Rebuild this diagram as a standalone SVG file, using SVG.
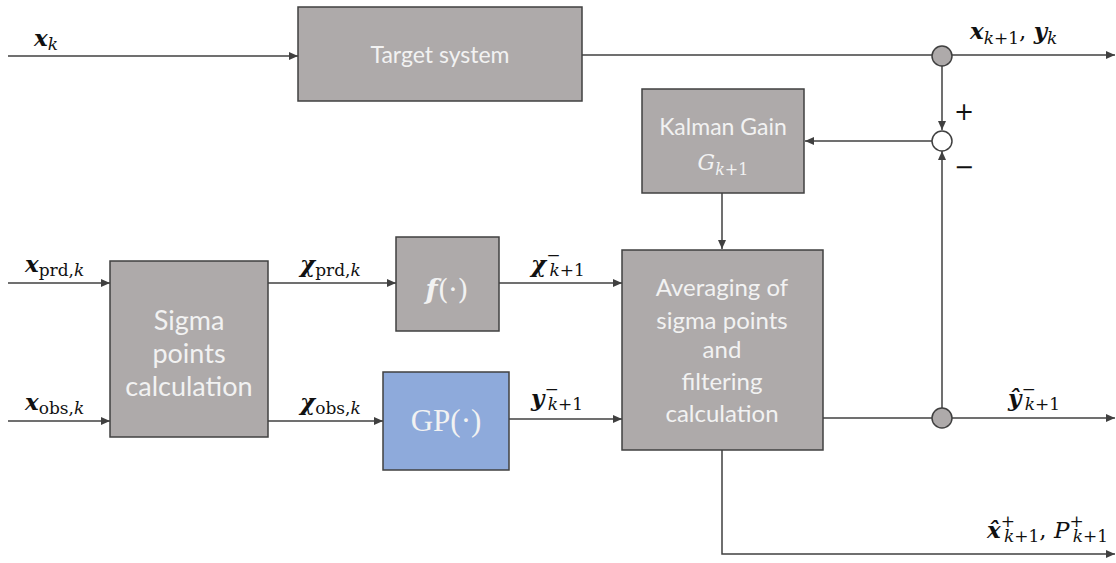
<svg xmlns="http://www.w3.org/2000/svg" width="1116" height="563" viewBox="0 0 1116 563">
<defs>
<marker id="ah" markerWidth="10" markerHeight="8" refX="9" refY="4" orient="auto" markerUnits="userSpaceOnUse">
<path d="M0,0 L9,4 L0,8 Z" fill="#404040"/>
</marker>
<style>
.box{fill:#aeaaaa;stroke:#404040;stroke-width:1.5}
.gp{fill:#8eaadb;stroke:#404040;stroke-width:1.5}
.lbl{font-family:"Lato","Open Sans",sans-serif;fill:#f2f2f2;text-anchor:middle}
.ln{fill:none;stroke:#404040;stroke-width:1.5}
.arr{marker-end:url(#ah)}
.m{font-family:"DejaVu Serif","Liberation Serif",serif;font-size:23px;fill:#111}
.b{font-weight:bold;font-style:italic}
.i{font-style:italic}
.s{font-size:17px}
.pm{font-family:"DejaVu Sans",sans-serif;font-size:24px;fill:#111}
</style>
</defs>
<g id="connectors">
<line class="ln arr" x1="8" y1="56" x2="298" y2="56"/>
<line class="ln" x1="582" y1="55" x2="932" y2="55"/>
<line class="ln arr" x1="952" y1="55" x2="1115" y2="55"/>
<line class="ln arr" x1="942" y1="65" x2="942" y2="130"/>
<line class="ln arr" x1="932" y1="141" x2="805" y2="141"/>
<line class="ln arr" x1="722" y1="193" x2="722" y2="249"/>
<line class="ln arr" x1="8" y1="283" x2="110" y2="283"/>
<line class="ln arr" x1="8" y1="421" x2="110" y2="421"/>
<line class="ln arr" x1="268" y1="283" x2="396" y2="283"/>
<line class="ln arr" x1="268" y1="421" x2="383" y2="421"/>
<line class="ln arr" x1="499" y1="283" x2="622" y2="283"/>
<line class="ln arr" x1="509" y1="419" x2="622" y2="419"/>
<line class="ln" x1="823" y1="418" x2="932" y2="418"/>
<line class="ln arr" x1="952" y1="418" x2="1115" y2="418"/>
<line class="ln arr" x1="942" y1="408" x2="942" y2="151"/>
<polyline class="ln arr" points="722,450 722,554 1115,554"/>
</g>
<g id="target-system">
<rect class="box" x="298" y="7" width="284" height="94"/>
<text class="lbl" x="440" y="63" font-size="23">Target system</text>
</g>
<g id="kalman-gain">
<rect class="box" x="642" y="89" width="162" height="104"/>
<text class="lbl" x="723" y="135" font-size="23">Kalman Gain</text>
<text x="723" y="170" font-family="DejaVu Serif,serif" font-size="22" fill="#f2f2f2" font-style="italic" text-anchor="middle">G<tspan font-size="16" dy="5">k</tspan><tspan font-size="16" font-style="normal">+1</tspan></text>
</g>
<g id="sigma-points">
<rect class="box" x="110" y="261" width="158" height="176"/>
<text class="lbl" x="189" y="330" font-size="27">Sigma</text>
<text class="lbl" x="189" y="363" font-size="27">points</text>
<text class="lbl" x="189" y="396" font-size="27">calculation</text>
</g>
<g id="f-block">
<rect class="box" x="396" y="237" width="103" height="94"/>
<text x="447" y="299" font-family="DejaVu Serif,serif" font-size="28" fill="#f2f2f2" text-anchor="middle"><tspan font-weight="bold" font-style="italic">f</tspan>(·)</text>
</g>
<g id="gp-block">
<rect class="gp" x="383" y="372" width="126" height="98"/>
<text x="446" y="431" font-family="Liberation Serif,serif" font-size="31" fill="#f2f2f2" text-anchor="middle">GP(·)</text>
</g>
<g id="averaging">
<rect class="box" x="622" y="250" width="201" height="200"/>
<text class="lbl" x="722" y="296" font-size="24">Averaging of</text>
<text class="lbl" x="722" y="329" font-size="24">sigma points</text>
<text class="lbl" x="722" y="358" font-size="24">and</text>
<text class="lbl" x="722" y="390" font-size="24">filtering</text>
<text class="lbl" x="722" y="422" font-size="24">calculation</text>
</g>
<g id="junction-top">
<circle cx="942" cy="56" r="10" fill="#aeaaaa" stroke="#404040" stroke-width="1.5"/>
</g>
<g id="sum">
<circle cx="942" cy="141" r="10" fill="#ffffff" stroke="#404040" stroke-width="1.5"/>
</g>
<g id="junction-bottom">
<circle cx="942" cy="418" r="10" fill="#aeaaaa" stroke="#404040" stroke-width="1.5"/>
</g>
<g id="labels">
<text class="m" x="34" y="46"><tspan class="b">x</tspan><tspan class="s i" dy="4">k</tspan></text>
<text class="m" x="970" y="39"><tspan class="b">x</tspan><tspan class="s i" dy="5">k</tspan><tspan class="s">+1</tspan><tspan dy="-5">, </tspan><tspan class="b">y</tspan><tspan class="s i" dy="5">k</tspan></text>
<text class="pm" x="954" y="120">+</text>
<text class="pm" x="954" y="175">−</text>
<text class="m" x="25" y="272"><tspan class="b">x</tspan><tspan class="s" dy="4">prd,</tspan><tspan class="s i">k</tspan></text>
<text class="m" x="25" y="410"><tspan class="b">x</tspan><tspan class="s" dy="4">obs,</tspan><tspan class="s i">k</tspan></text>
<text class="m" x="300" y="272"><tspan class="b">χ</tspan><tspan class="s" dy="4">prd,</tspan><tspan class="s i">k</tspan></text>
<text class="m" x="300" y="410"><tspan class="b">χ</tspan><tspan class="s" dy="4">obs,</tspan><tspan class="s i">k</tspan></text>
<text class="m" x="531" y="272"><tspan class="b">χ</tspan><tspan class="s" dy="-11">−</tspan><tspan class="s i" dx="-11" dy="15">k</tspan><tspan class="s">+1</tspan></text>
<text class="m" x="531" y="406"><tspan class="b">y</tspan><tspan class="s" dy="-11">−</tspan><tspan class="s i" dx="-11" dy="15">k</tspan><tspan class="s">+1</tspan></text>
<text class="m" x="1008" y="406"><tspan class="b">ŷ</tspan><tspan class="s" dy="-11">−</tspan><tspan class="s i" dx="-11" dy="15">k</tspan><tspan class="s">+1</tspan></text>
<text class="m" x="987" y="538"><tspan class="b">x̂</tspan><tspan class="s" dy="-11">+</tspan><tspan class="s i" dx="-11" dy="15">k</tspan><tspan class="s">+1</tspan><tspan dy="-4">, </tspan><tspan class="i">P</tspan><tspan class="s" dy="-11">+</tspan><tspan class="s i" dx="-11" dy="15">k</tspan><tspan class="s">+1</tspan></text>
</g>
</svg>
